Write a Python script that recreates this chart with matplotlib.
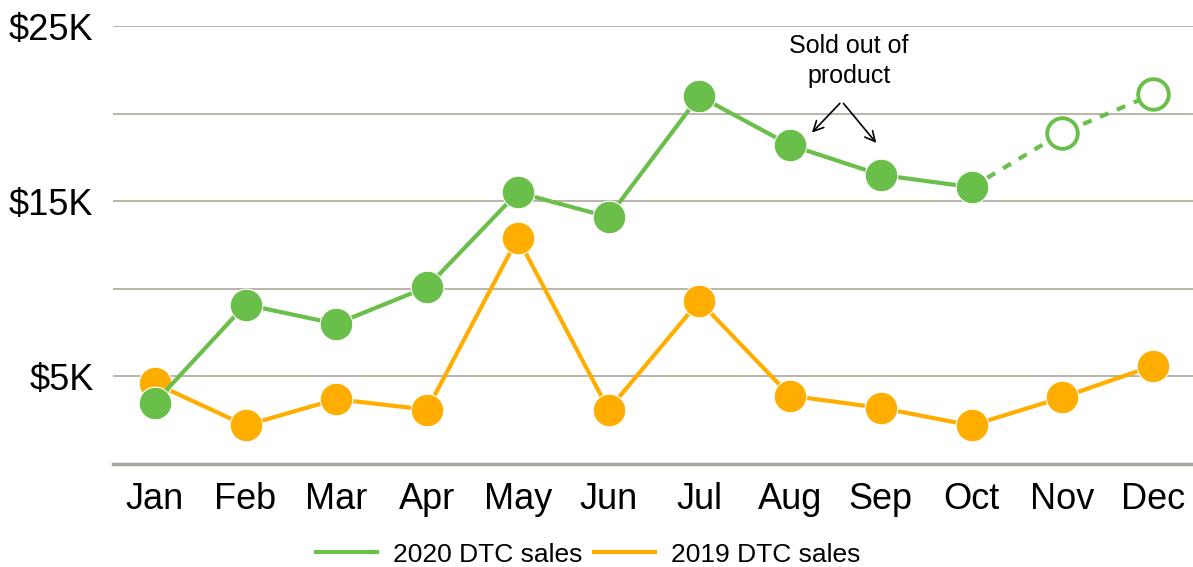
import matplotlib
matplotlib.use('agg')
import matplotlib.pyplot as plt
from matplotlib.lines import Line2D

months = ["Jan", "Feb", "Mar", "Apr", "May", "Jun",
          "Jul", "Aug", "Sep", "Oct", "Nov", "Dec"]
sales_2020 = [3.5, 9.1, 8.0, 10.1, 15.5, 14.1, 21.0, 18.2, 16.5, 15.8, 18.9, 21.1]
sales_2019 = [4.6, 2.2, 3.7, 3.1, 12.9, 3.1, 9.3, 3.9, 3.2, 2.2, 3.8, 5.6]
n_actual = 10  # Jan..Oct are actuals, Nov/Dec projected
y_ticks = [5, 10, 15, 20, 25]
y_labels = ["$5K", "", "$15K", "", "$25K"]

green = "#6abf4b"
orange = "#ffae00"
grid_col = "#b5aea6"

plt.rcParams['font.family'] = ['Liberation Sans', 'DejaVu Sans']

fig = plt.figure(figsize=(11.93, 5.67), dpi=100)
ax = fig.add_axes([113 / 1193, (567 - 464) / 567, 1 - 113 / 1193, (464 - 26) / 567])

x = list(range(len(months)))

# 2019 first so 2020 sits on top
ax.plot(x, sales_2019, '-', color=orange, lw=3, zorder=3)
ax.plot(x, sales_2019, 'o', color=orange, ms=23.5, mec='white', mew=0.8, zorder=4, clip_on=False)

ax.plot(x[:n_actual], sales_2020[:n_actual], '-', color=green, lw=3, zorder=5)
ax.plot(x[n_actual - 1:], sales_2020[n_actual - 1:], '--', color=green, lw=3,
        dashes=(2.2, 2.2), zorder=5)
ax.plot(x[:n_actual], sales_2020[:n_actual], 'o', color=green, ms=23.5, mec='white',
        mew=0.8, zorder=6, clip_on=False)
ax.plot(x[n_actual:], sales_2020[n_actual:], 'o', color=green, ms=22, mfc='white',
        mec=green, mew=2.8, zorder=6, clip_on=False)

ax.set_xlim(-0.46, 11.44)
ax.set_ylim(0, 25)
ax.set_yticks(y_ticks)
ax.set_yticklabels(y_labels, fontsize=26)
ax.set_xticks(x)
ax.set_xticklabels(months, fontsize=26)
ax.tick_params(axis='both', length=0)
ax.tick_params(axis='y', pad=14)
ax.tick_params(axis='x', pad=13)
ax.yaxis.grid(True, color=grid_col, lw=1.3)
ax.set_axisbelow(True)
for side in ['top', 'right', 'left']:
    ax.spines[side].set_visible(False)
ax.spines['bottom'].set_color("#aaa49e")
ax.spines['bottom'].set_linewidth(2.5)

# annotation
ax.text(7.65, 23.0, "Sold out of\nproduct", ha='center', va='center', fontsize=18,
        linespacing=1.35)
ax.annotate("", xy=(7.22, 18.8), xytext=(7.57, 20.7),
            arrowprops=dict(arrowstyle='->', color='black', lw=1.2, mutation_scale=18))
ax.annotate("", xy=(7.97, 18.2), xytext=(7.57, 20.7),
            arrowprops=dict(arrowstyle='->', color='black', lw=1.2, mutation_scale=18))

handles = [Line2D([], [], color=green, lw=3), Line2D([], [], color=orange, lw=3)]
fig.legend(handles, ["2020 DTC sales", "2019 DTC sales"], loc='center',
           bbox_to_anchor=(0.493, 0.022), ncol=2, frameon=False, fontsize=19,
           handlelength=2.3, columnspacing=0.45, handletextpad=0.6)

fig.savefig("out.png", dpi=100)
